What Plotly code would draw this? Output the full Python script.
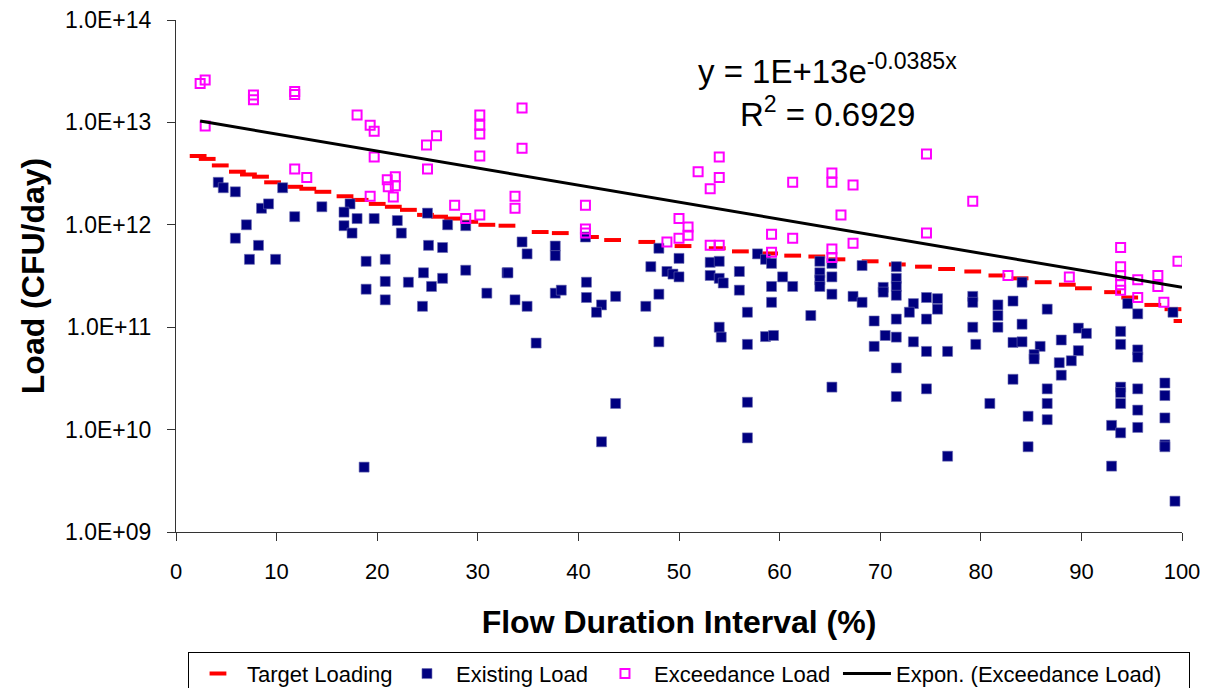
import plotly.graph_objects as go

# ---- data ----
target_x = [2.2, 3.1, 4.4, 6.1, 7.2, 8.4, 9.6, 11.8, 13.1, 14.6, 16.8, 18.3, 20.0, 21.6, 23.1,
            24.8, 26.2, 27.5, 29.2, 30.9, 32.9, 36.2, 38.2, 41.2, 43.4, 46.8, 50.4, 53.8, 56.1,
            59.0, 61.3, 63.7, 65.7, 69.0, 71.7, 74.3, 76.6, 79.2, 81.6, 83.9, 86.2, 88.6, 90.2,
            93.1, 94.8, 97.1, 99.1, 100.0]
target_y = [4.7e12, 4.4e12, 3.8e12, 3.3e12, 3.1e12, 2.95e12, 2.6e12, 2.35e12, 2.25e12, 2.1e12,
            1.9e12, 1.75e12, 1.6e12, 1.5e12, 1.4e12, 1.25e12, 1.2e12, 1.15e12, 1.07e12, 1.0e12,
            9.8e11, 8.5e11, 8.3e11, 7.6e11, 7.1e11, 6.8e11, 6.2e11, 5.9e11, 5.5e11, 5.25e11,
            5.0e11, 4.9e11, 4.6e11, 4.4e11, 4.1e11, 3.9e11, 3.7e11, 3.5e11, 3.2e11, 3.0e11,
            2.75e11, 2.6e11, 2.4e11, 2.2e11, 1.95e11, 1.65e11, 1.5e11, 1.15e11]

existing_x = [4.2, 4.7, 5.9, 10.6, 8.5, 9.2, 7.0, 5.9, 8.2, 7.3, 9.9, 11.8, 14.5, 17.3, 16.7,
              18.0, 16.7, 17.5, 19.7, 22.0, 22.4, 25.0, 27.0, 28.8, 25.1, 26.5, 18.9, 20.8,
              20.8, 23.1, 18.9, 20.8, 24.6, 25.4, 26.5, 28.8, 30.9, 32.9, 24.5, 18.7,
              34.4, 34.9, 37.7, 37.7, 40.7, 33.0, 33.7, 34.9, 37.7, 38.3, 40.8, 40.8, 42.3,
              43.7, 46.7, 47.2, 48.0, 50.0, 48.0, 48.8, 49.4, 50.0, 53.1, 54.0, 53.1, 54.0,
              54.4, 56.0, 56.0, 57.8, 58.6, 59.2, 60.3, 61.3, 59.2, 59.2, 64.0, 64.0, 64.0,
              64.0, 65.2, 65.2, 65.2,
              35.8, 41.8, 48.0, 43.7, 42.3, 56.8, 54.0, 54.2, 56.8, 56.8, 56.8, 58.6, 59.4,
              63.1, 65.2,
              68.2, 67.3, 68.2, 71.6, 71.6, 71.6, 71.6, 70.3, 70.3, 69.4, 71.6, 70.5, 71.6,
              69.4, 73.3, 72.9, 74.6, 74.6, 73.3, 74.6, 76.7, 75.7, 75.7, 71.6, 71.6, 74.6,
              76.7, 79.2, 79.2, 79.2, 79.5, 81.7, 81.7, 81.7, 80.9, 83.2, 84.1, 84.1, 83.2,
              84.1, 83.2, 84.7, 84.7, 86.6, 85.9, 85.3, 85.3, 86.6, 86.6, 86.6, 88.0, 87.8,
              88.0, 89.7, 90.5, 89.7, 89.0, 94.6, 95.6, 93.9, 93.9, 95.6, 95.6, 99.1, 93.9,
              93.9, 93.9, 95.6, 95.6, 95.6, 93.0, 93.9, 98.3, 98.3, 98.3, 98.3, 98.3, 93.0,
              99.3]
existing_y = [2.6e12, 2.3e12, 2.1e12, 2.3e12, 1.45e12, 1.6e12, 1.0e12, 7.4e11, 6.3e11, 4.6e11,
              4.6e11, 1.2e12, 1.5e12, 1.6e12, 1.33e12, 1.15e12, 9.8e11, 8.3e11, 1.15e12,
              1.1e12, 8.3e11, 1.3e12, 1.0e12, 9.8e11, 6.3e11, 6.0e11, 4.4e11, 4.6e11, 2.8e11,
              2.75e11, 2.35e11, 1.85e11, 3.4e11, 2.5e11, 3.0e11, 3.6e11, 2.15e11, 3.4e11,
              1.6e11, 4.3e9,
              6.8e11, 5.2e11, 6.2e11, 5.0e11, 7.6e11, 3.4e11, 1.85e11, 1.6e11, 2.15e11,
              2.3e11, 2.75e11, 1.95e11, 1.65e11, 2.0e11, 1.6e11, 3.9e11, 5.9e11, 4.7e11,
              2.1e11, 3.5e11, 3.3e11, 3.1e11, 4.3e11, 4.4e11, 3.2e11, 3.0e11, 2.7e11,
              3.5e11, 2.3e11, 5.2e11, 4.6e11, 4.2e11, 3.1e11, 2.5e11, 2.5e11, 1.75e11,
              4.4e11, 3.4e11, 2.9e11, 2.5e11, 4.2e11, 3.1e11, 2.1e11,
              7.0e10, 1.4e11, 7.2e10, 1.8e10, 7.6e9, 1.4e11, 1.0e11, 8.0e10, 6.8e10, 1.85e10,
              8.3e9, 8.1e10, 8.3e10, 1.3e11, 2.6e10,
              4.0e11, 2.0e11, 1.75e11, 3.9e11, 3.0e11, 2.5e11, 2.05e11, 2.45e11, 2.2e11,
              1.15e11, 1.2e11, 8.3e10, 8.0e10, 6.5e10, 1.7e11, 1.4e11, 1.95e11, 1.2e11,
              7.2e10, 5.8e10, 5.8e10, 1.9e11, 1.5e11, 4.0e10, 2.1e10, 2.5e10, 5.5e9, 2.0e11,
              1.75e11, 1.0e11, 6.8e10, 1.65e11, 1.3e11, 1.0e11, 1.8e10, 1.8e11, 2.75e11,
              1.07e11, 7.1e10, 7.2e10, 3.1e10, 1.35e10, 6.8e9, 1.5e11, 6.5e10, 5.4e10,
              4.9e10, 2.5e10, 1.8e10, 1.25e10, 7.5e10, 4.5e10, 3.4e10, 9.8e10, 8.7e10,
              5.9e10, 4.7e10, 1.7e11, 1.35e11, 9.1e10, 6.8e10, 6.0e10, 5.1e10, 1.4e11,
              2.6e10, 2.3e10, 1.8e10, 2.5e10, 1.55e10, 1.05e10, 1.1e10, 9.3e9, 2.85e10,
              2.15e10, 1.3e10, 7.1e9, 6.8e9, 4.4e9, 2.0e9]

exceed_x = [2.4, 2.9, 2.9, 7.7, 7.7, 11.8, 11.8, 18.0, 19.3, 19.7, 19.7, 24.9, 25.9, 25.0,
            30.2, 30.2, 30.2, 30.2, 11.8, 13.0, 21.0, 21.8, 21.1, 21.8, 21.6, 19.3, 27.7,
            28.8, 30.2, 34.4, 34.4, 33.7, 33.7, 40.7, 40.7, 40.7, 48.8, 50.0, 50.9, 50.9,
            50.0, 51.9, 54.0, 54.0, 53.1, 53.1, 54.0, 61.3, 59.2, 61.3, 59.2, 65.2, 65.2,
            65.2, 65.2, 66.1, 67.3, 67.3, 74.6, 74.6, 79.2, 82.7, 88.8, 93.9, 93.9, 93.9,
            93.9, 93.9, 95.6, 95.6, 97.6, 97.6, 98.2, 99.6]
exceed_y = [2.4e13, 2.6e13, 9.2e12, 1.85e13, 1.66e13, 2.0e13, 1.87e13, 1.18e13, 9.4e12,
            8.2e12, 4.6e12, 6.0e12, 7.4e12, 3.5e12, 1.18e13, 9.4e12, 7.7e12, 4.7e12,
            3.5e12, 2.9e12, 2.75e12, 2.95e12, 2.35e12, 2.4e12, 1.87e12, 1.9e12, 1.55e12,
            1.15e12, 1.25e12, 1.38e13, 5.6e12, 1.9e12, 1.45e12, 1.55e12, 9.1e11, 8.3e11,
            6.8e11, 1.15e12, 9.5e11, 7.9e11, 7.4e11, 3.3e12, 4.6e12, 2.9e12, 2.25e12,
            6.3e11, 6.3e11, 2.6e12, 8.1e11, 7.4e11, 5.4e11, 3.2e12, 2.6e12, 5.8e11, 4.8e11,
            1.25e12, 2.45e12, 6.6e11, 4.9e12, 8.3e11, 1.7e12, 3.2e11, 3.1e11, 6.0e11,
            3.9e11, 3.2e11, 2.6e11, 2.3e11, 2.9e11, 1.95e11, 3.2e11, 2.5e11, 1.75e11, 4.4e11]

trend_x = [2.4, 100.0]
trend_y = [1.03e13, 2.45e11]

ytick_vals = [1e9, 1e10, 1e11, 1e12, 1e13, 1e14]
ytick_text = ["1.0E+09", "1.0E+10", "1.0E+11", "1.0E+12", "1.0E+13", "1.0E+14"]

FONT = "Arial, Liberation Sans, sans-serif"

fig = go.Figure()
fig.add_trace(go.Scatter(
    x=target_x, y=target_y, mode="markers", name="Target Loading", legendwidth=146,
    marker=dict(symbol="line-ew", size=12, color="#FF0000",
                line=dict(color="#FF0000", width=4))))
fig.add_trace(go.Scatter(
    x=existing_x, y=existing_y, mode="markers", name="Existing Load", legendwidth=135,
    marker=dict(symbol="square", size=10, color="#000080",
                line=dict(color="#6a6ab0", width=0.6))))
fig.add_trace(go.Scatter(
    x=exceed_x, y=exceed_y, mode="markers", name="Exceedance Load", legendwidth=179,
    marker=dict(symbol="square-open", size=9, color="#FF00FF",
                line=dict(color="#FF00FF", width=2))))
fig.add_trace(go.Scatter(
    x=trend_x, y=trend_y, mode="lines", name="Expon. (Exceedance Load)", legendwidth=288,
    line=dict(color="#000000", width=3)))

# page body adds an 8px margin, so the figure is sized/offset to compensate
fig.update_layout(
    width=1201, height=680,
    margin=dict(l=168, r=27, t=12, b=156, autoexpand=False),
    paper_bgcolor="white", plot_bgcolor="white",
    font=dict(family=FONT, color="black", size=22),
    showlegend=True,
    legend=dict(orientation="h", x=0.0119, xanchor="left", y=-0.234, yanchor="top",
                itemwidth=48,
                bordercolor="#000000", borderwidth=1, font=dict(size=22, family=FONT),
                bgcolor="white", traceorder="normal"),
    xaxis=dict(range=[0, 100], dtick=10, tick0=0, showgrid=False, zeroline=False,
               automargin=False, ticklabeloverflow="allow",
               showline=True, linecolor="#333333", linewidth=1,
               ticks="outside", ticklen=8, tickcolor="#333333",
               tickfont=dict(size=22, family=FONT), ticklabelstandoff=12,
               title=dict(text="<b>Flow Duration Interval (%)</b>",
                          font=dict(size=32, family=FONT), standoff=27)),
    yaxis=dict(type="log", range=[9, 14], showgrid=False, zeroline=False,
               automargin=False, ticklabeloverflow="allow",
               showline=True, linecolor="#333333", linewidth=1,
               ticks="outside", ticklen=8, tickcolor="#333333",
               tickvals=ytick_vals, ticktext=ytick_text,
               tickfont=dict(size=23, family=FONT), ticklabelstandoff=11,
               title=dict(text="<b>Load (CFU/day)</b>",
                          font=dict(size=32, family=FONT), standoff=10)),
)

fig.add_annotation(xref="paper", yref="paper", x=0.648, y=0.904, xanchor="center",
                   yanchor="middle", showarrow=False,
                   text="y = 1E+13e<sup>-0.0385x</sup>", font=dict(size=33, family=FONT))
fig.add_annotation(xref="paper", yref="paper", x=0.648, y=0.820, xanchor="center",
                   yanchor="middle", showarrow=False,
                   text="R<sup>2</sup> = 0.6929", font=dict(size=33, family=FONT))

fig.write_html("out.html")
